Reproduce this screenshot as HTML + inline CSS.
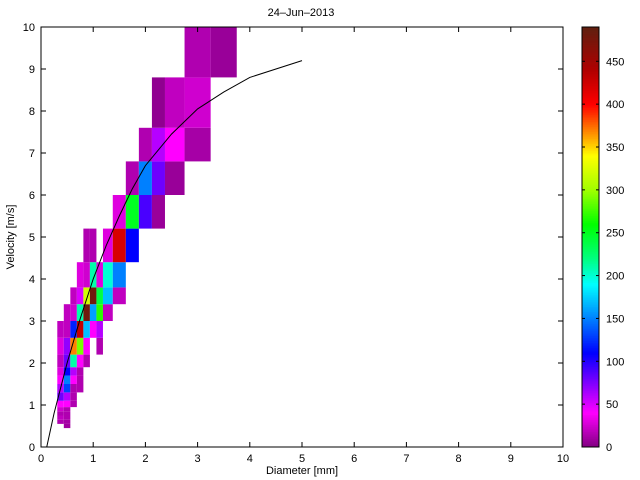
<!DOCTYPE html>
<html><head><meta charset="utf-8"><style>
body{margin:0;background:#fff;}
svg{display:block;font-family:"Liberation Sans",sans-serif;}
</style></head><body>
<svg id="chart" width="640" height="480" xmlns="http://www.w3.org/2000/svg">
<rect x="0" y="0" width="640" height="480" fill="#fff"/>
<g id="cells"></g>
<g id="curve"></g>
<g id="axes"></g>
<g id="cbar"></g>
<text x="301" y="16" font-size="11" text-anchor="middle">24–Jun–2013</text>
<text x="302" y="474" font-size="11" text-anchor="middle">Diameter [mm]</text>
<text x="14" y="237" font-size="11" text-anchor="middle" transform="rotate(-90 14 237)">Velocity [m/s]</text>
</svg>
<script>
const dEdges=[0.312,0.437,0.562,0.687,0.812,0.937,1.062,1.187,1.375,1.625,1.875,2.125,2.375,2.75,3.25,3.75];
const vEdges=[0.45,0.55,0.65,0.75,0.85,0.95,1.1,1.3,1.5,1.7,1.9,2.2,2.6,3.0,3.4,3.8,4.4,5.2,6.0,6.8,7.6,8.8,10.4];
const counts=[
[0,10],
[15,12],
[20,15],
[15,15],
[25,15],
[40,40,15],
[80,60,15],
[60,130,15,15],
[40,150,40,15],
[30,110,60,15],
[20,80,210,40,15],
[30,70,370,290,40,0,15],
[20,20,120,430,170,40,60],
[0,20,25,210,480,160,270,20],
[0,0,20,50,320,480,240,170,20],
[0,0,0,30,25,210,30,200,150],
[0,0,0,0,15,15,0,30,420,110],
[0,0,0,0,0,0,0,0,30,250,90,8],
[0,0,0,0,0,0,0,0,0,15,150,80,8],
[0,0,0,0,0,0,0,0,0,0,15,60,40,12],
[0,0,0,0,0,0,0,0,0,0,0,5,20,25],
[0,0,0,0,0,0,0,0,0,0,0,0,0,15,8]
];
const curveD=[0.11,0.25,0.5,0.75,1,1.25,1.5,1.75,2,2.5,3,3.5,4,5];
const curveV=[0,0.8,2.0,3.05,4.0,4.8,5.5,6.15,6.7,7.45,8.05,8.45,8.8,9.2];
const xTicks=[0,1,2,3,4,5,6,7,8,9,10];
const yTicks=[0,1,2,3,4,5,6,7,8,9,10];
const cTicks=[0,50,100,150,200,250,300,350,400,450];
const cMax=490;

const NS="http://www.w3.org/2000/svg";
const L=41,R=563,T=27,B=447;
const xs=d=>L+d/10*(R-L);
const ys=v=>B-v/10*(B-T);
const stops=[[0,[128,0,128]],[40,[255,0,255]],[75,[128,0,255]],[110,[0,0,255]],[150,[0,128,255]],[190,[0,255,255]],[220,[0,255,128]],[260,[0,255,0]],[300,[160,255,0]],[340,[255,255,0]],[370,[255,128,0]],[400,[255,0,0]],[440,[176,0,0]],[490,[96,32,16]]];
function cmap(v){
  for(let i=1;i<stops.length;i++){
    if(v<=stops[i][0]){const a=stops[i-1],b=stops[i];const t=(v-a[0])/(b[0]-a[0]);
      const c=a[1].map((x,k)=>Math.round(x+(b[1][k]-x)*t));return `rgb(${c[0]},${c[1]},${c[2]})`;}
  }
  return "rgb(96,32,16)";
}
function mk(tag,attrs,parent){const e=document.createElementNS(NS,tag);for(const k in attrs)e.setAttribute(k,attrs[k]);parent.appendChild(e);return e;}
const gc=document.getElementById('cells');
counts.forEach((row,ri)=>{
  row.forEach((val,ci)=>{
    if(!val)return;
    const x0=xs(dEdges[ci]),x1=xs(dEdges[ci+1]);
    const y0=Math.max(ys(vEdges[ri+1]),T),y1=ys(vEdges[ri]);
    const r=mk('rect',{x:x0,y:y0,width:x1-x0,height:y1-y0,fill:cmap(val)},gc);
    
    
  });
});
const gcur=document.getElementById('curve');
const pl=mk('polyline',{points:curveD.map((d,i)=>xs(d)+','+ys(curveV[i])).join(' '),fill:'none',stroke:'#000','stroke-width':1},gcur);



const ga=document.getElementById('axes');
const box=mk('rect',{x:L,y:T,width:R-L,height:B-T,fill:'none',stroke:'#000','stroke-width':1},ga);


xTicks.forEach(t=>{
  const x=xs(t);
  mk('line',{x1:x,y1:B,x2:x,y2:B-5,stroke:'#000'},ga);
  mk('line',{x1:x,y1:T,x2:x,y2:T+5,stroke:'#000'},ga);
  const tx=mk('text',{x:x,y:B+15,'font-size':11,'text-anchor':'middle'},ga);
  tx.textContent=t;
  
  
});
yTicks.forEach(t=>{
  const y=ys(t);
  mk('line',{x1:L,y1:y,x2:L+5,y2:y,stroke:'#000'},ga);
  mk('line',{x1:R,y1:y,x2:R-5,y2:y,stroke:'#000'},ga);
  const tx=mk('text',{x:L-6,y:y+4,'font-size':11,'text-anchor':'end'},ga);
  tx.textContent=t;
  
  
});

const gb=document.getElementById('cbar');
const CX=582,CW=17;
const cy=v=>B-v/cMax*(B-T);
for(let v=0;v<cMax;v+=2){
  mk('rect',{x:CX,y:cy(v+2),width:CW,height:cy(v)-cy(v+2)+0.5,fill:cmap(v+1)},gb);
}
const cf=mk('rect',{x:CX,y:T,width:CW,height:B-T,fill:'none',stroke:'#000'},gb);


cTicks.forEach(t=>{
  const y=cy(t);
  mk('line',{x1:CX,y1:y,x2:CX+3,y2:y,stroke:'#000'},gb);
  mk('line',{x1:CX+CW,y1:y,x2:CX+CW-3,y2:y,stroke:'#000'},gb);
  const tx=mk('text',{x:CX+CW+7,y:y+4,'font-size':11},gb);
  tx.textContent=t;
  
  
});
</script>
</body></html>
